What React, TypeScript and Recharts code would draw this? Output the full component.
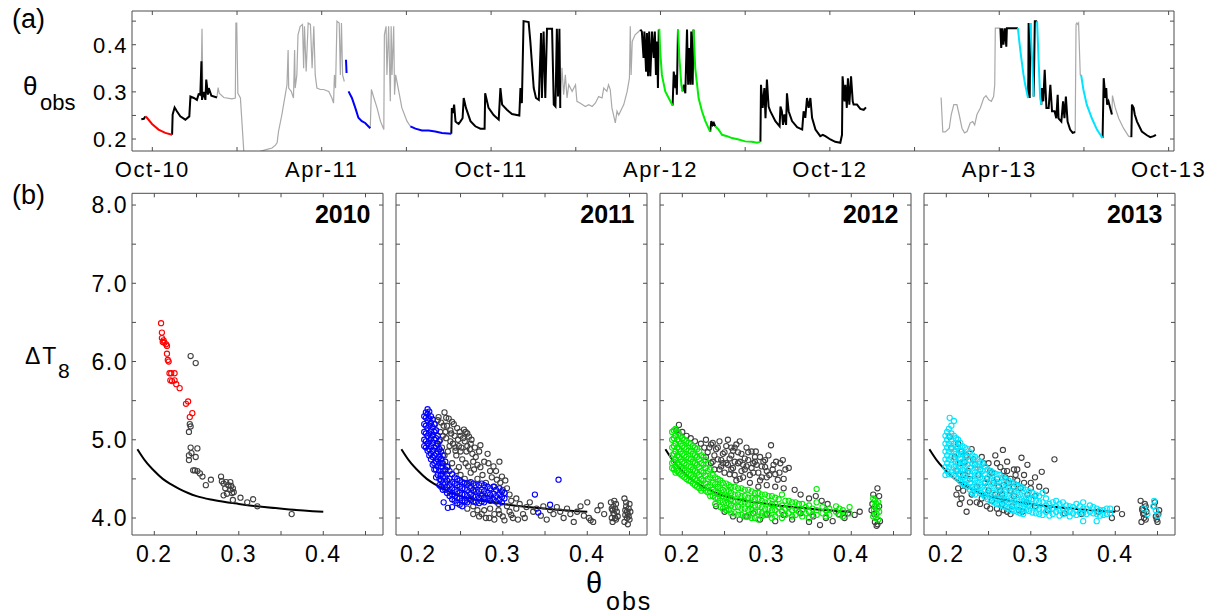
import React from 'react';
import { LineChart, ComposedChart, Line, Scatter, XAxis, YAxis } from 'recharts';

const FONT = '"Liberation Sans", Arial, Helvetica, sans-serif';
const AXIS = '#4d4d4d';

// ---------------- panel (a): time series (month index, 0 = Oct 2010) ----------------
const MONTH_TICKS = [0, 3, 6, 9, 12, 15, 18, 21, 24, 27, 30, 33, 36];
const MONTH_LABELS: Record<number, string> = {
  0: 'Oct-10', 6: 'Apr-11', 12: 'Oct-11', 18: 'Apr-12', 24: 'Oct-12', 30: 'Apr-13', 36: 'Oct-13',
};
const THETA_TICKS_A = [0.2, 0.25, 0.3, 0.35, 0.4, 0.45];
const THETA_LABELS_A = [0.2, 0.3, 0.4];

type Pt = [number, number];

const GRAY_SEGS: Pt[][] = [
  [[1.72, 0.29], [1.76, 0.434], [1.79, 0.29]],
  [[2.29, 0.288], [2.33, 0.309], [2.37, 0.297], [2.53, 0.288], [2.82, 0.285], [2.94, 0.287], [2.96, 0.446], [2.99, 0.446], [3.03, 0.297], [3.12, 0.287], [3.24, 0.174], [3.30, 0.15], [3.75, 0.15], [3.83, 0.174], [4.0, 0.177], [4.24, 0.181], [4.36, 0.187], [4.42, 0.192], [4.47, 0.216], [4.59, 0.252], [4.71, 0.294], [4.77, 0.315], [4.81, 0.389], [4.83, 0.308], [4.92, 0.301], [5.0, 0.287], [5.04, 0.389], [5.06, 0.308], [5.12, 0.336], [5.16, 0.421], [5.24, 0.439], [5.32, 0.443], [5.36, 0.35], [5.39, 0.439], [5.45, 0.343], [5.52, 0.446], [5.6, 0.443], [5.66, 0.35], [5.72, 0.439], [5.77, 0.336], [5.83, 0.308], [5.95, 0.305], [6.07, 0.305], [6.25, 0.301], [6.36, 0.287], [6.42, 0.276], [6.45, 0.336], [6.49, 0.308], [6.54, 0.45], [6.62, 0.446], [6.66, 0.336], [6.7, 0.446], [6.74, 0.336], [6.8, 0.322]],
  [[7.72, 0.223], [7.76, 0.305], [7.85, 0.287], [7.96, 0.266], [8.08, 0.238], [8.2, 0.22], [8.22, 0.421], [8.28, 0.439], [8.31, 0.336], [8.37, 0.439], [8.43, 0.28], [8.46, 0.439], [8.49, 0.336], [8.55, 0.439], [8.58, 0.294], [8.62, 0.336], [8.73, 0.301], [8.84, 0.266], [9.02, 0.238], [9.14, 0.227]],
  [[14.45, 0.266], [14.51, 0.351], [14.57, 0.294], [14.63, 0.336], [14.69, 0.287], [14.75, 0.315], [14.87, 0.301], [14.99, 0.315], [15.04, 0.28], [15.16, 0.276], [15.34, 0.269], [15.46, 0.273], [15.58, 0.269], [15.69, 0.276], [15.81, 0.29], [15.93, 0.287], [15.99, 0.308], [16.1, 0.301], [16.16, 0.315], [16.22, 0.305], [16.28, 0.266], [16.4, 0.234], [16.46, 0.259], [16.52, 0.251], [16.64, 0.266], [16.7, 0.273], [16.82, 0.301], [16.9, 0.329], [16.93, 0.439], [16.96, 0.336], [17.0, 0.407], [17.1, 0.421], [17.23, 0.428], [17.29, 0.432]],
  [[27.94, 0.288], [28.0, 0.215], [28.09, 0.215], [28.23, 0.223], [28.3, 0.252], [28.39, 0.273], [28.5, 0.273], [28.58, 0.252], [28.68, 0.223], [28.77, 0.213], [28.86, 0.216], [28.97, 0.234], [29.06, 0.237], [29.13, 0.23], [29.21, 0.252], [29.33, 0.266], [29.45, 0.287], [29.53, 0.292], [29.63, 0.283], [29.72, 0.28], [29.8, 0.29], [29.84, 0.315], [29.86, 0.435], [29.92, 0.435], [30.04, 0.435]],
  [[32.69, 0.215], [32.72, 0.443], [32.75, 0.446], [32.78, 0.443], [32.81, 0.446], [32.87, 0.336], [32.9, 0.336]],
  [[33.99, 0.252], [34.01, 0.292], [34.11, 0.266], [34.23, 0.244], [34.4, 0.223], [34.58, 0.206], [34.68, 0.204]],
];

const BLACK_SEGS: Pt[][] = [
  [[-0.39, 0.242], [-0.3, 0.243], [-0.25, 0.248]],
  [[0.7, 0.209], [0.72, 0.252], [0.79, 0.267], [0.87, 0.259], [0.99, 0.248], [1.17, 0.241], [1.31, 0.248], [1.35, 0.29], [1.47, 0.287], [1.58, 0.283], [1.64, 0.295], [1.7, 0.294], [1.74, 0.365], [1.76, 0.283], [1.82, 0.3], [1.88, 0.283], [1.91, 0.326], [1.97, 0.294], [2.0, 0.308], [2.09, 0.292], [2.29, 0.288]],
  [[10.59, 0.211], [10.61, 0.266], [10.65, 0.255], [10.69, 0.273], [10.74, 0.237], [10.8, 0.234], [10.85, 0.232], [10.91, 0.237], [10.99, 0.244], [11.03, 0.287], [11.11, 0.266], [11.27, 0.238], [11.44, 0.227], [11.62, 0.222], [11.77, 0.222], [11.79, 0.297], [11.91, 0.266], [12.09, 0.251], [12.27, 0.241], [12.33, 0.308], [12.39, 0.273], [12.56, 0.262], [12.74, 0.253], [13.0, 0.25], [13.04, 0.308], [13.09, 0.276], [13.15, 0.45], [13.33, 0.448], [13.39, 0.407], [13.51, 0.308], [13.59, 0.287], [13.69, 0.283], [13.77, 0.425], [13.8, 0.287], [13.86, 0.428], [13.92, 0.287], [13.98, 0.434], [14.16, 0.434], [14.22, 0.273], [14.28, 0.269], [14.33, 0.434], [14.37, 0.29], [14.42, 0.434], [14.45, 0.266]],
  [[17.29, 0.432], [17.34, 0.428], [17.4, 0.372], [17.43, 0.428], [17.49, 0.343], [17.52, 0.425], [17.56, 0.333], [17.6, 0.428], [17.64, 0.333], [17.7, 0.428], [17.76, 0.372], [17.8, 0.428], [17.84, 0.336], [17.88, 0.407], [17.91, 0.308], [17.94, 0.432]],
  [[18.43, 0.271], [18.47, 0.343], [18.53, 0.308], [18.56, 0.336], [18.58, 0.294], [18.62, 0.432]],
  [[18.78, 0.301], [18.83, 0.315], [18.88, 0.297], [18.94, 0.432], [18.98, 0.315], [19.02, 0.393], [19.06, 0.315], [19.09, 0.428], [19.14, 0.315], [19.17, 0.432]],
  [[19.76, 0.215], [19.8, 0.238], [19.85, 0.23], [19.89, 0.234], [19.94, 0.227]],
  [[21.54, 0.194], [21.56, 0.315], [21.62, 0.266], [21.68, 0.308], [21.72, 0.244], [21.77, 0.326], [21.83, 0.269], [21.89, 0.259], [22.07, 0.238], [22.22, 0.227], [22.25, 0.269], [22.3, 0.259], [22.34, 0.23], [22.39, 0.252], [22.45, 0.23], [22.48, 0.297], [22.54, 0.259], [22.66, 0.238], [22.84, 0.225], [23.02, 0.22], [23.07, 0.259], [23.13, 0.245], [23.19, 0.287], [23.25, 0.266], [23.31, 0.287], [23.37, 0.245], [23.49, 0.22], [23.66, 0.206], [23.75, 0.209], [23.84, 0.206], [24.02, 0.199], [24.19, 0.194], [24.37, 0.192], [24.43, 0.209], [24.45, 0.333], [24.52, 0.28], [24.55, 0.315], [24.6, 0.266], [24.64, 0.329], [24.69, 0.273], [24.75, 0.333], [24.81, 0.28], [24.84, 0.273], [24.96, 0.273], [25.08, 0.264], [25.2, 0.262], [25.28, 0.267]],
  [[30.04, 0.435], [30.07, 0.393], [30.11, 0.435], [30.15, 0.4], [30.2, 0.435], [30.25, 0.396], [30.27, 0.435], [30.45, 0.435], [30.66, 0.435]],
  [[31.02, 0.287], [31.03, 0.33], [31.04, 0.446], [31.08, 0.287], [31.1, 0.446]],
  [[31.22, 0.29], [31.26, 0.45], [31.32, 0.45], [31.34, 0.45]],
  [[31.49, 0.273], [31.51, 0.308], [31.56, 0.28], [31.61, 0.347], [31.67, 0.266], [31.75, 0.266], [31.81, 0.315], [31.87, 0.259], [31.96, 0.259], [32.02, 0.244], [32.07, 0.294], [32.1, 0.244], [32.2, 0.237], [32.26, 0.28], [32.31, 0.244], [32.36, 0.29], [32.42, 0.237], [32.51, 0.22], [32.6, 0.213], [32.69, 0.215]],
  [[33.66, 0.202], [33.7, 0.329], [33.76, 0.287], [33.79, 0.308], [33.82, 0.273], [33.87, 0.28], [33.93, 0.266], [33.99, 0.252]],
  [[34.68, 0.204], [34.7, 0.273], [34.76, 0.266], [34.8, 0.252], [34.88, 0.237], [35.05, 0.216], [35.23, 0.208], [35.35, 0.204], [35.47, 0.206], [35.55, 0.209]],
];

const RED_SEGS: Pt[][] = [
  [[-0.25, 0.248], [-0.19, 0.245], [-0.01, 0.232], [0.22, 0.22], [0.46, 0.213], [0.7, 0.209]],
];
const BLUE_SEGS: Pt[][] = [
  [[6.86, 0.368], [6.87, 0.355], [6.88, 0.34]],
  [[6.95, 0.301], [7.07, 0.287], [7.19, 0.266], [7.3, 0.245], [7.42, 0.238], [7.54, 0.234], [7.72, 0.223]],
  [[9.14, 0.227], [9.32, 0.222], [9.55, 0.218], [9.79, 0.218], [10.02, 0.216], [10.26, 0.213], [10.59, 0.211]],
];
const GREEN_SEGS: Pt[][] = [
  [[17.94, 0.432], [17.96, 0.432], [17.99, 0.386], [18.05, 0.336], [18.17, 0.301], [18.29, 0.287], [18.43, 0.271]],
  [[18.62, 0.432], [18.67, 0.372], [18.74, 0.315], [18.78, 0.301]],
  [[19.17, 0.432], [19.23, 0.351], [19.35, 0.287], [19.47, 0.259], [19.59, 0.238], [19.76, 0.215]],
  [[19.94, 0.227], [20.06, 0.22], [20.18, 0.209], [20.36, 0.206], [20.53, 0.202], [20.77, 0.199], [21.0, 0.195], [21.24, 0.194], [21.42, 0.192], [21.54, 0.194]],
];
const CYAN_SEGS: Pt[][] = [
  [[30.66, 0.435], [30.71, 0.407], [30.78, 0.372], [30.86, 0.336], [30.92, 0.315], [31.02, 0.287]],
  [[31.1, 0.446], [31.16, 0.372], [31.22, 0.29]],
  [[31.34, 0.45], [31.4, 0.358], [31.45, 0.287], [31.49, 0.273]],
  [[32.9, 0.336], [32.98, 0.305], [33.1, 0.273], [33.28, 0.244], [33.46, 0.22], [33.66, 0.202]],
];

// ---------------- panel (b): scatter ----------------
const TH_TICKS = [0.2, 0.25, 0.3, 0.35, 0.4, 0.45];
const DT_TICKS = [4, 4.5, 5, 5.5, 6, 6.5, 7, 7.5, 8];

const FIT: Pt[] = [
  [0.18, 4.88], [0.19, 4.72], [0.2, 4.6], [0.21, 4.5], [0.22, 4.43], [0.23, 4.37], [0.24, 4.32],
  [0.25, 4.28], [0.27, 4.23], [0.3, 4.18], [0.33, 4.14], [0.36, 4.11], [0.4, 4.08],
];

type Col = [number, number[]];

const RED_2010: Pt[] = [
  [0.208, 6.49], [0.209, 6.37], [0.209, 6.3], [0.211, 6.27], [0.212, 6.24], [0.214, 6.22], [0.215, 6.2],
  [0.21, 6.25], [0.215, 6.1], [0.216, 6.02], [0.217, 6.0], [0.218, 5.85], [0.22, 5.85], [0.224, 5.85],
  [0.219, 5.76], [0.224, 5.76], [0.226, 5.71], [0.23, 5.66], [0.221, 5.75], [0.2375, 5.46], [0.24, 5.49],
  [0.242, 5.29], [0.245, 5.34],
];
const GRAY_2010: Pt[] = [
  [0.243, 6.07], [0.249, 5.98], [0.242, 5.2], [0.243, 5.17], [0.241, 5.1], [0.243, 4.9], [0.244, 4.83],
  [0.251, 4.89], [0.241, 4.8], [0.241, 4.74], [0.249, 4.78], [0.246, 4.61], [0.248, 4.61], [0.251, 4.6],
  [0.254, 4.57], [0.257, 4.53], [0.261, 4.42], [0.267, 4.49], [0.279, 4.53], [0.28, 4.47], [0.282, 4.44],
  [0.285, 4.46], [0.2875, 4.42], [0.29, 4.46], [0.291, 4.41], [0.29, 4.36], [0.293, 4.38], [0.284, 4.38],
  [0.282, 4.29], [0.286, 4.31], [0.292, 4.32], [0.294, 4.33], [0.293, 4.23], [0.302, 4.26], [0.31, 4.2],
  [0.317, 4.24], [0.322, 4.15], [0.3626, 4.05],
];

const BLUE_2011: Col[] = [
  [0.207, [5.3, 5.2, 5.1, 5.0, 4.92]],
  [0.209, [5.35, 5.28, 5.18, 5.08, 4.98, 4.9]],
  [0.211, [5.39, 5.33, 5.25, 5.15, 5.05, 4.95, 4.86]],
  [0.213, [5.36, 5.27, 5.18, 5.08, 4.98, 4.88, 4.8]],
  [0.215, [5.3, 5.22, 5.12, 5.02, 4.92, 4.82, 4.75]],
  [0.217, [5.26, 5.16, 5.06, 4.96, 4.86, 4.78, 4.68]],
  [0.219, [5.2, 5.1, 5.0, 4.9, 4.8, 4.7, 4.62]],
  [0.221, [5.12, 5.02, 4.92, 4.82, 4.72, 4.62, 4.52]],
  [0.223, [5.05, 4.95, 4.85, 4.75, 4.66, 4.55]],
  [0.225, [4.98, 4.88, 4.78, 4.7, 4.6, 4.5, 4.42]],
  [0.227, [4.85, 4.76, 4.66, 4.56, 4.48, 4.4]],
  [0.229, [4.8, 4.7, 4.6, 4.52, 4.44, 4.36]],
  [0.232, [4.72, 4.62, 4.52, 4.44, 4.36]],
  [0.234, [4.66, 4.56, 4.48, 4.4, 4.32]],
  [0.237, [4.6, 4.5, 4.42, 4.34, 4.28]],
  [0.24, [4.56, 4.46, 4.38, 4.3, 4.24]],
  [0.243, [4.52, 4.44, 4.36, 4.28, 4.22]],
  [0.246, [4.5, 4.42, 4.34, 4.26, 4.19]],
  [0.249, [4.48, 4.4, 4.32, 4.25, 4.17]],
  [0.252, [4.46, 4.38, 4.3, 4.22, 4.15]],
  [0.255, [4.45, 4.37, 4.3, 4.22]],
  [0.258, [4.44, 4.36, 4.28, 4.2]],
  [0.262, [4.46, 4.38, 4.3, 4.23]],
  [0.265, [4.44, 4.36, 4.28, 4.21]],
  [0.268, [4.42, 4.34, 4.27, 4.2]],
  [0.272, [4.42, 4.34, 4.26, 4.19]],
  [0.275, [4.44, 4.36, 4.28, 4.21]],
  [0.278, [4.42, 4.34, 4.26, 4.2]],
  [0.282, [4.4, 4.32, 4.25]],
  [0.285, [4.38, 4.3, 4.22]],
  [0.289, [4.4, 4.31, 4.24]],
  [0.292, [4.36, 4.28, 4.21]],
  [0.296, [4.38, 4.3, 4.23]],
  [0.299, [4.34, 4.27, 4.2]],
  [0.302, [4.32, 4.25]],
  [0.23, [4.2]], [0.235, [4.13]], [0.24, [4.14]], [0.338, [4.3]], [0.366, [4.49]], [0.356, [4.17]], [0.342, [4.07]],
];
const GRAY_2011: Pt[] = [
  [0.217, 5.05], [0.22, 5.2], [0.222, 4.95], [0.224, 5.29], [0.226, 5.1], [0.228, 4.9], [0.23, 5.18], [0.231, 5.35],
  [0.233, 5.02], [0.235, 4.85], [0.236, 5.27], [0.238, 5.12], [0.24, 5.23], [0.241, 4.95], [0.243, 5.05], [0.245, 4.8],
  [0.246, 5.15], [0.248, 4.92], [0.25, 5.05], [0.252, 4.75], [0.254, 5.13], [0.255, 4.98], [0.257, 4.85], [0.258, 5.08],
  [0.26, 5.04], [0.262, 4.95], [0.259, 4.66], [0.262, 4.58], [0.266, 4.62], [0.268, 4.78], [0.27, 4.5], [0.2735, 4.93],
  [0.2735, 4.65], [0.276, 4.55], [0.28, 4.45], [0.282, 4.82], [0.285, 4.6], [0.289, 4.66], [0.29, 4.4], [0.293, 4.49],
  [0.296, 4.72], [0.299, 4.53], [0.3, 4.36], [0.305, 4.38], [0.245, 4.6], [0.25, 4.55], [0.255, 4.5], [0.228, 4.7],
  [0.235, 4.65], [0.226, 5.0], [0.232, 5.1], [0.238, 4.98], [0.244, 4.9], [0.25, 4.85], [0.256, 4.7], [0.264, 4.82],
  [0.221, 5.12], [0.223, 5.25], [0.225, 4.88], [0.227, 5.22], [0.229, 5.05], [0.231, 4.8], [0.233, 5.28], [0.234, 5.18],
  [0.237, 4.92], [0.239, 5.08], [0.242, 5.2], [0.244, 4.86], [0.247, 5.0], [0.249, 5.1], [0.251, 4.9], [0.253, 5.02],
  [0.256, 5.1], [0.258, 4.92], [0.261, 4.88], [0.263, 5.0], [0.265, 4.72], [0.267, 4.9], [0.27, 4.68], [0.272, 4.85],
  [0.278, 4.72], [0.283, 4.7], [0.287, 4.52], [0.292, 4.6], [0.297, 4.45], [0.303, 4.48], [0.308, 4.3], [0.31, 4.22],
  [0.316, 4.25], [0.26, 4.45], [0.265, 4.35], [0.275, 4.3], [0.285, 4.25], [0.295, 4.18], [0.255, 4.2], [0.262, 4.25],
  [0.232, 4.6], [0.24, 4.7], [0.248, 4.65],
  [0.258, 4.12], [0.265, 4.05], [0.272, 4.02], [0.278, 4.1], [0.284, 4.0], [0.29, 3.98], [0.296, 4.05], [0.302, 3.97],
  [0.31, 4.04], [0.318, 3.98], [0.326, 4.0],
  [0.285, 4.12], [0.29, 4.05], [0.295, 4.1], [0.3, 4.02], [0.305, 4.15], [0.308, 4.08], [0.312, 4.0], [0.316, 4.12],
  [0.32, 4.18], [0.324, 4.05], [0.328, 4.14], [0.332, 4.2], [0.336, 4.08], [0.34, 4.12], [0.345, 4.03], [0.348, 4.15],
  [0.352, 3.98], [0.356, 4.1], [0.36, 4.05], [0.364, 4.14], [0.368, 4.08], [0.372, 4.0], [0.376, 4.12], [0.38, 4.05],
  [0.384, 3.95], [0.388, 4.08], [0.392, 4.15], [0.396, 4.03], [0.4, 4.2], [0.402, 4.0], [0.404, 3.97], [0.407, 3.95],
  [0.412, 4.1], [0.416, 4.16], [0.42, 4.05], [0.275, 4.05], [0.28, 4.0], [0.27, 4.1], [0.265, 4.15],
  [0.428, 4.2], [0.43, 4.1], [0.432, 4.05], [0.434, 3.98], [0.431, 4.15], [0.429, 4.0], [0.433, 4.12], [0.435, 4.08],
  [0.43, 3.95], [0.434, 4.18], [0.436, 4.02], [0.432, 4.22], [0.431, 4.06], [0.433, 4.0], [0.429, 4.12],
  [0.444, 4.25], [0.446, 4.15], [0.448, 4.05], [0.45, 3.98], [0.445, 4.1], [0.447, 4.0], [0.449, 4.12], [0.451, 4.08],
  [0.444, 3.95], [0.446, 4.2], [0.45, 4.18], [0.448, 3.92], [0.447, 4.08], [0.449, 4.02], [0.445, 4.04],
];

const GREEN_2012: Col[] = [
  [0.188, [5.1, 5.0, 4.9, 4.8, 4.7, 4.64]],
  [0.19, [5.12, 5.02, 4.92, 4.82, 4.72, 4.62]],
  [0.192, [5.14, 5.05, 4.95, 4.85, 4.75, 4.66, 4.58]],
  [0.194, [5.1, 5.0, 4.9, 4.8, 4.7, 4.6]],
  [0.196, [5.08, 4.98, 4.88, 4.78, 4.68, 4.58]],
  [0.198, [5.05, 4.95, 4.85, 4.75, 4.65, 4.56]],
  [0.2, [5.02, 4.92, 4.82, 4.72, 4.62, 4.54]],
  [0.2025, [5.0, 4.9, 4.8, 4.7, 4.6, 4.52]],
  [0.205, [4.98, 4.88, 4.78, 4.68, 4.58, 4.5]],
  [0.2075, [4.96, 4.86, 4.76, 4.66, 4.56, 4.48]],
  [0.21, [4.95, 4.85, 4.75, 4.65, 4.55, 4.47]],
  [0.2125, [4.92, 4.82, 4.72, 4.62, 4.52, 4.44]],
  [0.215, [4.9, 4.8, 4.7, 4.6, 4.5, 4.42]],
  [0.2175, [4.88, 4.78, 4.68, 4.58, 4.48, 4.4]],
  [0.22, [4.85, 4.75, 4.65, 4.55, 4.45, 4.38]],
  [0.2225, [4.8, 4.7, 4.6, 4.5, 4.42, 4.35]],
  [0.225, [4.78, 4.68, 4.58, 4.48, 4.38]],
  [0.2275, [4.74, 4.64, 4.54, 4.44, 4.35]],
  [0.23, [4.7, 4.6, 4.5, 4.4, 4.33]],
  [0.233, [4.62, 4.52, 4.42, 4.34, 4.28]],
  [0.236, [4.55, 4.45, 4.36, 4.28]],
  [0.239, [4.52, 4.43, 4.34, 4.26, 4.18]],
  [0.242, [4.5, 4.4, 4.32, 4.25]],
  [0.245, [4.48, 4.38, 4.3, 4.22, 4.14]],
  [0.248, [4.45, 4.36, 4.28, 4.2, 4.12]],
  [0.252, [4.44, 4.35, 4.27, 4.19, 4.1]],
  [0.255, [4.42, 4.34, 4.26, 4.18, 4.1]],
  [0.258, [4.4, 4.32, 4.24, 4.16, 4.06]],
  [0.262, [4.4, 4.3, 4.22, 4.14, 4.06]],
  [0.266, [4.38, 4.3, 4.22, 4.14, 4.04]],
  [0.27, [4.38, 4.28, 4.2, 4.12, 4.04]],
  [0.274, [4.36, 4.28, 4.2, 4.12, 4.02]],
  [0.278, [4.36, 4.26, 4.18, 4.1, 4.02]],
  [0.282, [4.34, 4.26, 4.18, 4.1, 4.0]],
  [0.286, [4.32, 4.24, 4.16, 4.08, 4.0]],
  [0.29, [4.32, 4.24, 4.16, 4.08, 3.98]],
  [0.294, [4.3, 4.22, 4.14, 4.06, 4.02]],
  [0.298, [4.3, 4.2, 4.12, 4.04]],
  [0.302, [4.28, 4.2, 4.12, 4.04]],
  [0.306, [4.28, 4.18, 4.1, 4.0]],
  [0.31, [4.26, 4.18, 4.1, 4.02]],
  [0.314, [4.24, 4.14, 4.06]],
  [0.318, [4.3, 4.16, 4.08, 4.0]],
  [0.322, [4.22, 4.12, 4.04]],
  [0.326, [4.22, 4.14, 4.06]],
  [0.33, [4.2, 4.1, 4.02]],
  [0.334, [4.2, 4.12, 4.04]],
  [0.338, [4.18, 4.08]],
  [0.342, [4.18, 4.1, 4.02]],
  [0.346, [4.14, 4.06]],
  [0.35, [4.16, 4.08, 4.0]],
  [0.354, [4.12, 4.04]],
  [0.359, [4.37, 4.2, 4.1, 4.04]],
  [0.366, [4.14, 4.06]],
  [0.37, [4.1, 4.02]],
  [0.374, [4.12, 4.04]],
  [0.382, [4.15, 4.08]],
  [0.386, [4.12, 4.04]],
  [0.39, [4.1, 4.02]],
  [0.398, [4.14, 4.06]],
  [0.426, [4.25, 4.02]], [0.427, [4.1]], [0.428, [4.15, 4.22]], [0.429, [4.0]], [0.43, [4.05, 4.18]],
  [0.431, [4.12]], [0.432, [4.2, 3.98]], [0.433, [4.08]],
];
const GRAY_2012: Pt[] = [
  [0.196, 5.19], [0.193, 5.12], [0.2, 5.1], [0.205, 5.05], [0.21, 5.02], [0.215, 4.98], [0.222, 4.95], [0.228, 5.0],
  [0.232, 4.9], [0.236, 4.96], [0.24, 4.88], [0.244, 4.98], [0.248, 4.82], [0.252, 4.92], [0.254, 5.0], [0.256, 4.76],
  [0.26, 4.86], [0.264, 4.94], [0.268, 4.98], [0.266, 4.7], [0.27, 4.82], [0.274, 4.62], [0.276, 4.9], [0.278, 4.74],
  [0.282, 4.85], [0.284, 4.58], [0.287, 4.85], [0.288, 4.68], [0.292, 4.78], [0.294, 4.52], [0.296, 4.72], [0.3, 4.6],
  [0.302, 4.8], [0.305, 4.93], [0.308, 4.68], [0.31, 4.56], [0.313, 4.49], [0.316, 4.7], [0.319, 4.74], [0.322, 4.62],
  [0.326, 4.64], [0.228, 4.78], [0.234, 4.7], [0.238, 4.62], [0.242, 4.75], [0.246, 4.66], [0.25, 4.58], [0.258, 4.62],
  [0.262, 4.55], [0.268, 4.5], [0.28, 4.45], [0.29, 4.4], [0.333, 4.36], [0.34, 4.3], [0.35, 4.25], [0.358, 4.28],
  [0.365, 4.22], [0.372, 4.18], [0.258, 4.8], [0.272, 4.68], [0.286, 4.72], [0.298, 4.65], [0.262, 4.9], [0.248, 4.7],
  [0.226, 4.9], [0.23, 4.84], [0.234, 4.94], [0.238, 4.8], [0.242, 4.9], [0.246, 4.74], [0.25, 4.84], [0.254, 4.68],
  [0.258, 4.9], [0.262, 4.72], [0.266, 4.84], [0.27, 4.6], [0.274, 4.76], [0.278, 4.84], [0.282, 4.64], [0.286, 4.78],
  [0.29, 4.58], [0.294, 4.66], [0.298, 4.74], [0.303, 4.55], [0.307, 4.62], [0.311, 4.72], [0.315, 4.58], [0.32, 4.5],
  [0.236, 4.72], [0.244, 4.62], [0.252, 4.7], [0.26, 4.64], [0.268, 4.72], [0.276, 4.66], [0.284, 4.7], [0.292, 4.48],
  [0.3, 4.52], [0.3, 4.42], [0.31, 4.4], [0.32, 4.38], [0.256, 4.56], [0.264, 4.48], [0.272, 4.52], [0.28, 4.55],
  [0.24, 4.15], [0.25, 4.08], [0.26, 4.02], [0.268, 3.98], [0.276, 4.02], [0.284, 4.06], [0.292, 3.98], [0.3, 4.05],
  [0.31, 3.96], [0.32, 4.04], [0.33, 3.98], [0.34, 4.06], [0.35, 3.95], [0.355, 4.02], [0.363, 3.91], [0.37, 4.0],
  [0.378, 3.96], [0.385, 4.05], [0.392, 4.0], [0.396, 4.06], [0.404, 4.04], [0.41, 4.08],
  [0.424, 4.1], [0.426, 4.3], [0.428, 3.95], [0.431, 4.38], [0.431, 3.92], [0.433, 4.28], [0.434, 3.96], [0.425, 4.18],
  [0.427, 4.05], [0.43, 3.9], [0.433, 4.15],
];

const CYAN_2013: Col[] = [
  [0.199, [5.05, 4.95, 4.85, 4.75, 4.65, 4.55]],
  [0.201, [5.1, 5.0, 4.9, 4.8, 4.7, 4.6]],
  [0.203, [5.14, 5.05, 4.95, 4.85, 4.75, 4.65, 4.56]],
  [0.204, [5.28]],
  [0.206, [5.18, 5.08, 4.98, 4.88, 4.78, 4.68, 4.58]],
  [0.209, [5.24, 5.05, 4.95, 4.85, 4.75, 4.65, 4.55]],
  [0.2115, [5.02, 4.92, 4.82, 4.72, 4.62, 4.52]],
  [0.214, [5.0, 4.9, 4.8, 4.7, 4.6, 4.5]],
  [0.2165, [4.96, 4.86, 4.76, 4.66, 4.56, 4.47]],
  [0.219, [4.92, 4.82, 4.72, 4.62, 4.52, 4.44]],
  [0.222, [4.9, 4.8, 4.7, 4.6, 4.5, 4.42]],
  [0.225, [4.88, 4.78, 4.68, 4.58, 4.48, 4.4]],
  [0.228, [4.84, 4.74, 4.64, 4.54, 4.44, 4.36]],
  [0.231, [4.8, 4.7, 4.6, 4.5, 4.4, 4.32]],
  [0.234, [4.78, 4.68, 4.58, 4.48, 4.38, 4.3]],
  [0.237, [4.75, 4.65, 4.55, 4.45, 4.35]],
  [0.24, [4.72, 4.62, 4.52, 4.42, 4.32]],
  [0.243, [4.7, 4.6, 4.5, 4.4, 4.3]],
  [0.246, [4.66, 4.56, 4.46, 4.36, 4.27]],
  [0.249, [4.62, 4.52, 4.42, 4.32, 4.24]],
  [0.2525, [4.6, 4.5, 4.4, 4.3, 4.22]],
  [0.256, [4.58, 4.48, 4.38, 4.28, 4.2]],
  [0.2595, [4.56, 4.46, 4.36, 4.26, 4.18]],
  [0.263, [4.55, 4.45, 4.35, 4.25, 4.17]],
  [0.2665, [4.52, 4.42, 4.32, 4.23, 4.15]],
  [0.27, [4.5, 4.4, 4.3, 4.22, 4.14]],
  [0.2735, [4.48, 4.38, 4.28, 4.2, 4.12]],
  [0.277, [4.45, 4.35, 4.26, 4.18, 4.1]],
  [0.2805, [4.44, 4.34, 4.24, 4.16, 4.09]],
  [0.284, [4.42, 4.32, 4.23, 4.15, 4.08]],
  [0.2875, [4.4, 4.3, 4.21, 4.13, 4.06]],
  [0.291, [4.38, 4.28, 4.2, 4.12, 4.05]],
  [0.2945, [4.36, 4.26, 4.18, 4.1]],
  [0.298, [4.34, 4.25, 4.17, 4.09]],
  [0.302, [4.32, 4.24, 4.15, 4.07]],
  [0.306, [4.3, 4.22, 4.14, 4.06]],
  [0.31, [4.28, 4.2, 4.12, 4.05]],
  [0.314, [4.32, 4.2, 4.12, 4.04]],
  [0.318, [4.25, 4.16, 4.08]],
  [0.322, [4.18, 4.1, 4.03]],
  [0.326, [4.2, 4.12, 4.05]],
  [0.33, [4.22, 4.15, 4.08]],
  [0.334, [4.18, 4.1, 4.03]],
  [0.338, [4.2, 4.12, 4.05]],
  [0.342, [4.16, 4.08]],
  [0.346, [4.15, 4.08, 4.02]],
  [0.35, [4.14, 4.06]],
  [0.354, [4.18, 4.1, 4.04]],
  [0.358, [4.15, 4.07]],
  [0.362, [4.2, 4.12, 4.06, 3.96]],
  [0.366, [4.12, 4.05]],
  [0.37, [4.16, 4.08]],
  [0.374, [4.14, 4.06]],
  [0.378, [4.12, 4.05, 3.96]],
  [0.382, [4.1, 4.03]],
  [0.386, [4.1, 4.04]],
  [0.39, [4.12, 4.05]],
  [0.394, [4.12, 4.06]],
  [0.434, [4.12]], [0.438, [4.05]], [0.445, [4.15]], [0.448, [4.1]], [0.45, [4.03]], [0.446, [4.22]],
];
const GRAY_2013: Pt[] = [
  [0.204, 5.04], [0.206, 4.9], [0.21, 4.78], [0.214, 4.95], [0.218, 4.85], [0.222, 4.72], [0.226, 4.6], [0.23, 4.88],
  [0.234, 4.68], [0.238, 4.55], [0.242, 4.78], [0.246, 4.45], [0.25, 4.7], [0.254, 4.58], [0.258, 4.8], [0.262, 4.4],
  [0.264, 4.65], [0.267, 4.87], [0.27, 4.52], [0.272, 4.72], [0.276, 4.35], [0.28, 4.62], [0.284, 4.48], [0.289, 4.77],
  [0.292, 4.55], [0.296, 4.68], [0.3, 4.45], [0.305, 4.52], [0.31, 4.4], [0.313, 4.59], [0.318, 4.35], [0.328, 4.75],
  [0.214, 4.38], [0.218, 4.25], [0.222, 4.42], [0.224, 4.08], [0.23, 4.3], [0.236, 4.2], [0.242, 4.25], [0.248, 4.15],
  [0.254, 4.22], [0.26, 4.12], [0.266, 4.18], [0.272, 4.08], [0.278, 4.15], [0.286, 4.1], [0.295, 4.2], [0.305, 4.15],
  [0.32, 4.1], [0.34, 4.06], [0.36, 4.05], [0.38, 4.08], [0.396, 4.0], [0.402, 4.12], [0.408, 4.05],
  [0.26, 4.5], [0.268, 4.6], [0.274, 4.45], [0.282, 4.55], [0.25, 4.35], [0.258, 4.3], [0.266, 4.3], [0.28, 4.28],
  [0.212, 4.6], [0.216, 4.7], [0.22, 4.55], [0.224, 4.8], [0.228, 4.5], [0.232, 4.75], [0.236, 4.4], [0.24, 4.62],
  [0.244, 4.7], [0.248, 4.5], [0.252, 4.6], [0.256, 4.45], [0.26, 4.7], [0.264, 4.35], [0.268, 4.42], [0.272, 4.6],
  [0.276, 4.5], [0.28, 4.4], [0.284, 4.62], [0.288, 4.38], [0.292, 4.45], [0.296, 4.3], [0.3, 4.38], [0.305, 4.28],
  [0.212, 4.3], [0.216, 4.18], [0.22, 4.35], [0.228, 4.2], [0.24, 4.18], [0.252, 4.12], [0.262, 4.06], [0.268, 4.1],
  [0.276, 4.05], [0.29, 4.08],
  [0.43, 4.22], [0.432, 4.1], [0.434, 4.0], [0.436, 4.15], [0.431, 3.95], [0.433, 4.05], [0.435, 4.18], [0.437, 4.08],
  [0.432, 4.12], [0.434, 4.06], [0.436, 3.98],
  [0.446, 4.15], [0.448, 4.02], [0.45, 3.95], [0.447, 4.2], [0.452, 4.1], [0.449, 3.98], [0.451, 4.05],
];

// ---------------- helpers ----------------
const segsToData = (segs: Pt[][]) => {
  const out: { m: number; v: number | null }[] = [];
  segs.forEach((s) => {
    s.forEach(([m, v]) => out.push({ m, v }));
    out.push({ m: s[s.length - 1][0], v: null });
  });
  return out;
};
const ptsToData = (p: Pt[]) => p.map(([x, y]) => ({ x, y }));
const colsToData = (c: Col[]) => c.flatMap(([x, ys]) => ys.map((y) => ({ x, y })));

const emptyTick = () => <g />;

const makeBottomTick = (fmt: (v: number) => string, dy: number, fs: number) => (p: any) => {
  const s = fmt(p.payload.value);
  if (!s) return <g />;
  return (
    <text x={p.x} y={p.y + dy} textAnchor="middle" fontFamily={FONT} fontSize={fs} letterSpacing={1.5} fill="#000">
      {s}
    </text>
  );
};
const makeLeftTick = (fmt: (v: number) => string, fs: number) => (p: any) => {
  const s = fmt(p.payload.value);
  if (!s) return <g />;
  return (
    <text x={p.x} y={p.y + fs * 0.36} textAnchor="end" fontFamily={FONT} fontSize={fs} letterSpacing={1.5} fill="#000">
      {s}
    </text>
  );
};

const monthFmt = (v: number) => MONTH_LABELS[v] || '';
const thetaAFmt = (v: number) => (THETA_LABELS_A.some((t) => Math.abs(t - v) < 1e-9) ? v.toFixed(1) : '');
const thetaBFmt = (v: number) => (Math.abs(v * 10 - Math.round(v * 10)) < 1e-6 && v < 0.45 ? v.toFixed(1) : '');
const dtFmt = (v: number) => (Math.abs(v - Math.round(v)) < 1e-9 ? v.toFixed(1) : '');

const circleShape = (color: string) => (p: any) => (
  <circle cx={p.cx} cy={p.cy} r={2.6} fill="none" stroke={color} strokeWidth={1.1} />
);

const TOP_X_DOMAIN: [number, number] = [-0.72, 36.19];
const TOP_Y_DOMAIN: [number, number] = [0.1746, 0.4715];
const B_X_DOMAIN: [number, number] = [0.1736, 0.4707];
const B_Y_DOMAIN: [number, number] = [3.783, 8.15];

function TopPanel() {
  const series = [
    { segs: GRAY_SEGS, color: '#a9a9a9', w: 1.2 },
    { segs: BLACK_SEGS, color: '#000000', w: 2 },
    { segs: RED_SEGS, color: '#ff0000', w: 2 },
    { segs: BLUE_SEGS, color: '#0000ff', w: 2 },
    { segs: GREEN_SEGS, color: '#00ee00', w: 2 },
    { segs: CYAN_SEGS, color: '#00e5ff', w: 2 },
  ];
  return (
    <div style={{ position: 'absolute', left: 0, top: 0 }}>
      <LineChart width={1211} height={200} margin={{ top: 6, right: 32, bottom: 24, left: 92 }}>
        <XAxis xAxisId="b" dataKey="m" type="number" domain={TOP_X_DOMAIN} ticks={MONTH_TICKS} interval={0}
          allowDataOverflow height={25} tickSize={-4} tickMargin={4} stroke={AXIS} tick={makeBottomTick(monthFmt, 26, 22)} />
        <XAxis xAxisId="t" orientation="top" dataKey="m" type="number" domain={TOP_X_DOMAIN} ticks={MONTH_TICKS} interval={0}
          allowDataOverflow height={5} tickSize={-4} stroke={AXIS} tick={emptyTick} />
        <YAxis yAxisId="l" type="number" domain={TOP_Y_DOMAIN} ticks={THETA_TICKS_A} interval={0}
          allowDataOverflow width={40} tickSize={-4} tickMargin={8} stroke={AXIS} tick={makeLeftTick(thetaAFmt, 22)} />
        <YAxis yAxisId="r" orientation="right" type="number" domain={TOP_Y_DOMAIN} ticks={THETA_TICKS_A} interval={0}
          allowDataOverflow width={5} tickSize={-4} stroke={AXIS} tick={emptyTick} />
        {series.map((s, i) => (
          <Line key={i} xAxisId="b" yAxisId="l" data={segsToData(s.segs)} dataKey="v" type="linear"
            stroke={s.color} strokeWidth={s.w} dot={false} activeDot={false} isAnimationActive={false} connectNulls={false} />
        ))}
      </LineChart>
    </div>
  );
}

const FIT_DATA = ptsToData(FIT);

function ScatterPanel({ left, gray, colored, color, showY }: { left: number; gray: { x: number; y: number }[]; colored: { x: number; y: number }[]; color: string; showY: boolean }) {
  return (
    <div style={{ position: 'absolute', left: left - 50, top: 160 }}>
      <ComposedChart width={311} height={420} margin={{ top: 28.3, right: 5, bottom: 5, left: 10 }}>
        <XAxis xAxisId="b" dataKey="x" type="number" domain={B_X_DOMAIN} ticks={TH_TICKS} interval={0}
          allowDataOverflow height={40} tickSize={-4} tickMargin={4} stroke={AXIS} tick={makeBottomTick(thetaBFmt, 27, 23)} />
        <XAxis xAxisId="t" orientation="top" dataKey="x" type="number" domain={B_X_DOMAIN} ticks={TH_TICKS} interval={0}
          allowDataOverflow height={5} tickSize={-4} stroke={AXIS} tick={emptyTick} />
        <YAxis yAxisId="l" dataKey="y" type="number" domain={B_Y_DOMAIN} ticks={DT_TICKS} interval={0}
          allowDataOverflow width={40} tickSize={-4} tickMargin={8} stroke={AXIS} tick={showY ? makeLeftTick(dtFmt, 23) : emptyTick} />
        <YAxis yAxisId="r" orientation="right" dataKey="y" type="number" domain={B_Y_DOMAIN} ticks={DT_TICKS} interval={0}
          allowDataOverflow width={5} tickSize={-4} stroke={AXIS} tick={emptyTick} />
        <Scatter xAxisId="b" yAxisId="l" data={gray} shape={circleShape('#404040')} isAnimationActive={false} />
        <Scatter xAxisId="b" yAxisId="l" data={colored} shape={circleShape(color)} isAnimationActive={false} />
        <Line xAxisId="b" yAxisId="l" data={FIT_DATA} dataKey="y" type="monotone" stroke="#000" strokeWidth={2}
          dot={false} activeDot={false} isAnimationActive={false} />
      </ComposedChart>
    </div>
  );
}

const PANELS = [
  { year: '2010', left: 132, gray: ptsToData(GRAY_2010), colored: ptsToData(RED_2010), color: '#ff0000' },
  { year: '2011', left: 396, gray: ptsToData(GRAY_2011), colored: colsToData(BLUE_2011), color: '#0000ff' },
  { year: '2012', left: 660, gray: ptsToData(GRAY_2012), colored: colsToData(GREEN_2012), color: '#00ee00' },
  { year: '2013', left: 924, gray: ptsToData(GRAY_2013), colored: colsToData(CYAN_2013), color: '#00e5ff' },
];

export default function App() {
  return (
    <div style={{ position: 'absolute', left: 0, top: 0, width: 1211, height: 615, background: '#fff', fontFamily: FONT }}>
      <TopPanel />
      {PANELS.map((p, i) => (
        <ScatterPanel key={p.year} left={p.left} gray={p.gray} colored={p.colored} color={p.color} showY={i === 0} />
      ))}
      <svg width={1211} height={615} style={{ position: 'absolute', left: 0, top: 0, pointerEvents: 'none' }}>
        <g fontFamily={FONT} fill="#000">
          <text x={12} y={28} fontSize={27}>(a)</text>
          <text x={12} y={204} fontSize={27}>(b)</text>
          <text x={23} y={95} fontSize={26}>θ</text>
          <text x={40} y={110} fontSize={22}>obs</text>
          <text x={25} y={364} fontSize={23} letterSpacing={2}>ΔT</text>
          <text x={58} y={378} fontSize={21}>8</text>
          <text x={586} y={593} fontSize={29}>θ</text>
          <text x={606} y={610} fontSize={25} letterSpacing={2}>obs</text>
          {PANELS.map((p) => (
            <text key={p.year} x={p.left + 251 - 12.5} y={223} fontSize={25} fontWeight="bold" textAnchor="end">{p.year}</text>
          ))}
        </g>
      </svg>
    </div>
  );
}
